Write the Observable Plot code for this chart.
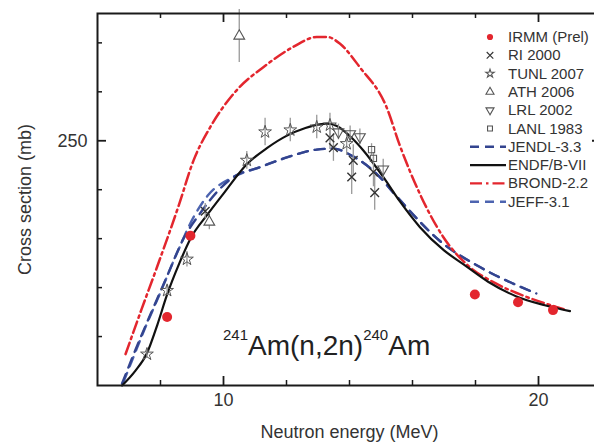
<!DOCTYPE html>
<html><head><meta charset="utf-8">
<script src="https://cdn.jsdelivr.net/npm/d3@7"></script>
<script src="https://cdn.jsdelivr.net/npm/@observablehq/plot@0.6"></script>
<style>
html,body{margin:0;padding:0;background:#fff;overflow:hidden;}
#wrap{position:relative;width:594px;height:444px;overflow:hidden;background:#fff;}
#wrap svg{max-width:none !important;}
#overlay{position:absolute;left:0;top:0;}
</style></head>
<body><div id="wrap"></div>
<script>
// ---- evaluated curves (Energy in MeV, cross section in mb) ----
const endfE  = [6.78, 7.2, 7.57, 7.9, 8.2, 8.6, 8.95, 9.5, 10.0, 10.74, 11.4, 12.0, 12.6, 13.0, 13.3, 13.6, 14.1, 14.44, 15.07, 15.6, 16.23, 17.0, 17.61, 18.4, 19.3, 20.2, 21.0];
const endfS  = [0, 15, 33, 62, 92, 125, 150, 175, 196, 226, 243, 255, 263, 266.5, 267.5, 265, 252, 240, 213, 188, 162, 138, 124, 106, 91, 82, 76];
const brondE = [6.89, 7.4, 7.89, 8.58, 9.05, 9.58, 10.32, 11.38, 12.22, 12.96, 13.3, 13.7, 14.33, 15.18, 15.6, 16.23, 16.97, 17.71, 18.66, 19.5, 20.2, 20.8];
const brondS = [32, 78, 121, 184, 230, 264, 298, 328, 346, 356, 356, 349, 325, 284, 245, 196, 152, 124, 104, 92, 84, 78];
const jendlE = [6.78, 7.2, 7.7, 8.2, 8.73, 9.26, 9.8, 10.32, 11.16, 12.01, 12.96, 13.5, 14.0, 14.9, 15.5, 16.97, 18.14, 19.93];
const jendlS = [2, 36, 74, 111, 150, 176, 198, 213, 223, 233, 241, 242, 236, 215, 193, 145, 121, 94];
const jeffE  = [6.78, 7.14, 7.5, 7.89, 8.52, 9.05, 9.5, 10.32, 11.16, 12.01, 12.96, 13.5, 14.0, 14.9, 15.5, 16.97, 18.14, 19.93];
const jeffS  = [0, 29, 58, 87, 135, 172, 194, 213, 223, 233, 241, 242, 236, 215, 193, 145, 121, 94];

// ---- experimental data ----
const irmmE = [8.21, 8.95, 17.98, 19.35, 20.46];
const irmmS = [70, 153, 93, 85, 77];
const riE = [9.42, 13.38, 13.49, 14.07, 14.12, 14.76, 14.8];
const riS = [178, 253, 243, 213, 230, 218, 197];
const riErr = [8, 12, 14, 18, 16, 15, 18];
const tunlE = [7.57, 8.21, 8.84, 10.74, 11.32, 12.12, 12.96, 13.38, 13.91];
const tunlS = [32, 97, 129, 230, 259, 261, 264, 266, 247];
const tunlErr = [4, 5, 8, 9, 14, 12, 12, 12, 12];
const athE = [9.55, 10.5];
const athS = [167, 357];
const athErr = [8, 27];
const lrlE = [13.65, 14.02, 14.33, 15.07];
const lrlS = [259, 257, 254, 221];
const lrlErr = [8, 8, 8, 10];
const lanlE = [14.7, 14.76];
const lanlS = [241, 232];
const lanlErr = [6, 6];

// ---- axis ticks ----
const xMajor = [10, 20];
const xMinor = [8, 12, 14, 16, 18];
const yMajor = [250];
const yMinor = [50, 100, 150, 200, 300, 350];

// ---- legend ----
const legendLabels = ["IRMM (Prel)", "RI 2000", "TUNL 2007", "ATH 2006", "LRL 2002", "LANL 1983", "JENDL-3.3", "ENDF/B-VII", "BROND-2.2", "JEFF-3.1"];

const rows = (E, S, err) => E.map((e, i) => ({E: e, s: S[i], lo: err ? S[i] - err[i] : S[i], hi: err ? S[i] + err[i] : S[i]}));
const endf = rows(endfE, endfS), brond = rows(brondE, brondS), jendl = rows(jendlE, jendlS), jeff = rows(jeffE, jeffS);
const irmm = rows(irmmE, irmmS), ri = rows(riE, riS, riErr), tunl = rows(tunlE, tunlS, tunlErr),
      ath = rows(athE, athS, athErr), lrl = rows(lrlE, lrlS, lrlErr), lanl = rows(lanlE, lanlS, lanlErr);
const withErr = [...ri, ...tunl, ...ath, ...lrl, ...lanl];

const W = 601, H = 444, mL = 97, mT = 13, mB = 59;
const fw = W - mL, fh = H - mT - mB;
const axisCol = "#1a1a1a", symCol = "#555", red = "#e3262e", blue1 = "#33448f", blue2 = "#4d64b0";
const blueDash = [10, 7];

const plot = Plot.plot({
  width: W, height: H,
  marginLeft: mL, marginRight: 0, marginTop: mT, marginBottom: mB,
  style: {fontFamily: "'Liberation Sans', Arial, sans-serif", fontSize: "18px", color: "#333", background: "white", maxWidth: "none", overflow: "hidden"},
  x: {domain: [6, 22], ticks: xMajor, tickSize: 0, tickPadding: 8, label: "Neutron energy (MeV)", labelAnchor: "center", labelOffset: 52, labelArrow: "none"},
  y: {domain: [0, 380], ticks: yMajor, tickSize: 0, tickPadding: 10, label: "Cross section (mb)", labelAnchor: "center", labelOffset: 79, labelArrow: "none"},
  marks: [
    Plot.line(jeff, {x: "E", y: "s", stroke: blue2, strokeWidth: 2.4, strokeDasharray: blueDash.join(","), curve: "monotone-x"}),
    Plot.line(jendl, {x: "E", y: "s", stroke: blue1, strokeWidth: 2.4, strokeDasharray: blueDash.join(","), curve: "monotone-x"}),
    Plot.line(brond, {x: "E", y: "s", stroke: red, strokeWidth: 2.5, strokeDasharray: "12,4,2.5,4", curve: "monotone-x"}),
    Plot.line(endf, {x: "E", y: "s", stroke: "#111", strokeWidth: 2.2, curve: "monotone-x"}),
    Plot.ruleX(withErr, {x: "E", y1: "lo", y2: "hi", stroke: "#999", strokeWidth: 1.3}),
    Plot.dot(ri, {x: "E", y: "s", symbol: "times", r: 4, stroke: "#333", strokeWidth: 1.4}),
    Plot.dot(tunl, {x: "E", y: "s", symbol: "star", r: 4, stroke: symCol, fill: "none", strokeWidth: 1}),
    Plot.dot(ath, {x: "E", y: "s", symbol: "triangle", r: 4, stroke: symCol, fill: "white", strokeWidth: 1.1}),
    Plot.dot(lrl, {x: "E", y: "s", symbol: "triangle", rotate: 180, r: 4, stroke: symCol, fill: "none", strokeWidth: 1.1}),
    Plot.dot(lanl, {x: "E", y: "s", symbol: "square", r: 3.5, stroke: symCol, fill: "none", strokeWidth: 1.1}),
    Plot.dot(irmm, {x: "E", y: "s", r: 5, fill: red, stroke: "none"}),
    Plot.frame({stroke: axisCol, strokeWidth: 2}),
    Plot.tickX(xMinor, {x: d => d, insetTop: fh - 5, stroke: axisCol, strokeWidth: 1.5}),
    Plot.tickX(xMinor, {x: d => d, insetBottom: fh - 5, stroke: axisCol, strokeWidth: 1.5}),
    Plot.tickX(xMajor, {x: d => d, insetTop: fh - 9, stroke: axisCol, strokeWidth: 1.8}),
    Plot.tickX(xMajor, {x: d => d, insetBottom: fh - 9, stroke: axisCol, strokeWidth: 1.8}),
    Plot.tickY(yMinor, {y: d => d, insetRight: fw - 5, stroke: axisCol, strokeWidth: 1.5}),
    Plot.tickY(yMinor, {y: d => d, insetLeft: fw - 5, stroke: axisCol, strokeWidth: 1.5}),
    Plot.tickY(yMajor, {y: d => d, insetRight: fw - 9, stroke: axisCol, strokeWidth: 1.8}),
    Plot.tickY(yMajor, {y: d => d, insetLeft: fw - 9, stroke: axisCol, strokeWidth: 1.8})
  ]
});
const wrap = document.getElementById("wrap");
wrap.appendChild(plot);

// align the dash phase of the two overlapping blue curves where they coincide
try {
  const lineGroups = plot.querySelectorAll('g[aria-label="line"]');
  const gJeff = lineGroups[0], gJendl = lineGroups[1];
  const pJeff = gJeff && gJeff.querySelector("path");
  const pJendl = gJendl && gJendl.querySelector("path");
  const px0 = plot.scale("x").apply(jendlE[7]);
  const lenAt = (p) => {
    let lo = 0, hi = p.getTotalLength();
    for (let k = 0; k < 40; k++) { const m = (lo + hi) / 2; if (p.getPointAtLength(m).x < px0) lo = m; else hi = m; }
    return lo;
  };
  if (pJeff && pJendl) {
    const P = blueDash[0] + blueDash[1];
    const off = (((lenAt(pJendl) - lenAt(pJeff)) % P) + P) % P;
    if (isFinite(off)) pJeff.setAttribute("stroke-dashoffset", off);
  }
} catch (e) {}

// ---- overlay: legend and reaction label ----
const ov = d3.select(wrap).append("svg").attr("id", "overlay").attr("width", 594).attr("height", 444)
  .style("font-family", "'Liberation Sans', Arial, sans-serif");
const lg = ov.append("g");
const rowY = i => 37 + i * 18.3;
const symX = 490, txtX = 508;
const symbolDefs = [
  {type: d3.symbolCircle, size: 30, fill: red, stroke: "none"},
  {type: d3.symbolTimes, size: 30, fill: "none", stroke: "#333"},
  {type: d3.symbolStar, size: 22, fill: "none", stroke: symCol},
  {type: d3.symbolTriangle, size: 28, fill: "none", stroke: symCol},
  {type: d3.symbolTriangle, size: 28, fill: "none", stroke: symCol, rot: 180},
  {type: d3.symbolSquare, size: 24, fill: "none", stroke: symCol}
];
const lineDefs = [
  {stroke: blue1, dash: "9,6"},
  {stroke: "#111", dash: null},
  {stroke: red, dash: "12,4,2.5,4"},
  {stroke: blue2, dash: "9,6"}
];
legendLabels.forEach((name, i) => {
  const y = rowY(i);
  if (i < symbolDefs.length) {
    const s = symbolDefs[i];
    lg.append("path").attr("d", d3.symbol(s.type, s.size)())
      .attr("transform", `translate(${symX},${y})` + (s.rot ? ` rotate(${s.rot})` : ""))
      .attr("fill", s.fill).attr("stroke", s.stroke).attr("stroke-width", 1.1);
  } else {
    const l = lineDefs[i - symbolDefs.length];
    lg.append("line").attr("x1", 470).attr("x2", 506).attr("y1", y).attr("y2", y)
      .attr("stroke", l.stroke).attr("stroke-width", 2.4).attr("stroke-dasharray", l.dash);
  }
  lg.append("text").attr("x", txtX).attr("y", y + 5).attr("font-size", "15px").attr("fill", "#333").text(name);
});

const t = ov.append("text").attr("x", 223).attr("y", 355).attr("font-size", "28px").attr("fill", "#222");
t.append("tspan").attr("font-size", "15px").attr("dy", -15).text("241");
t.append("tspan").attr("dy", 15).text("Am(n,2n)");
t.append("tspan").attr("font-size", "15px").attr("dy", -15).text("240");
t.append("tspan").attr("dy", 15).text("Am");
</script>
</body></html>
